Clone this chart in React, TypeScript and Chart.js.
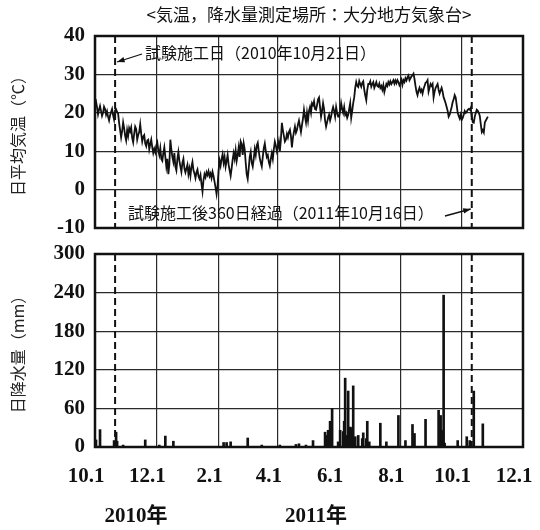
import React, { useEffect, useRef } from 'react';
import { Chart, registerables } from 'chart.js';

Chart.register(...registerables);

// ---- axis ticks (days since 2010-10-01) ----
const tickDays = [0, 61, 123, 182, 243, 304, 365, 426];
const tickLabels = ['10.1', '12.1', '2.1', '4.1', '6.1', '8.1', '10.1', '12.1'];
const yearLabels = ['2010年', '2011年'];
const markerDays = [20, 375];

// ---- daily mean temperature (°C), by month ----
const tOct2010 = [22.5, 23.0, 21.5, 19.6, 20.8, 21.8, 20.5, 19.2, 20.0, 21.6, 21.0, 19.5, 20.4, 19.0, 18.0, 19.3, 20.2, 21.0, 19.4, 18.2, 20.6, 20.9, 20.2, 19.8, 17.4, 15.5, 13.6, 15.2, 17.5, 16.0, 14.0];
const tNov2010 = [12.8, 15.5, 14.0, 16.0, 15.2, 16.2, 13.5, 12.3, 14.5, 16.4, 15.8, 13.0, 14.2, 15.0, 17.0, 14.5, 12.5, 13.8, 14.2, 12.0, 11.3, 12.8, 13.0, 10.5, 11.8, 13.0, 11.0, 9.5, 10.6, 9.7];
const tDec2010 = [11.5, 12.3, 10.2, 9.0, 10.8, 8.0, 7.5, 9.5, 11.0, 8.5, 6.0, 8.0, 4.0, 6.5, 13.0, 10.5, 8.5, 7.2, 9.5, 6.0, 5.0, 8.0, 9.8, 7.5, 6.0, 4.6, 7.0, 8.0, 5.5, 4.5, 5.5];
const tJan2011 = [6.5, 4.0, 5.5, 3.6, 6.0, 7.2, 5.0, 4.2, 3.0, 4.5, 5.2, 3.5, 2.8, 3.8, 1.5, -0.5, 2.5, 4.0, 3.2, 4.5, 3.8, 4.8, 3.5, 4.2, 3.0, 4.6, 3.5, 2.0, 0.5, -1.2, 1.0];
const tFeb2011 = [5.0, 7.5, 6.2, 8.0, 9.2, 7.0, 8.5, 6.0, 7.5, 9.0, 6.5, 5.0, 3.6, 5.5, 7.8, 9.5, 8.0, 10.2, 7.5, 9.0, 11.0, 8.5, 12.5, 11.8, 9.0, 12.0, 10.5, 7.0];
const tMar2011 = [4.0, 2.8, 5.5, 8.5, 9.8, 7.0, 6.0, 8.0, 10.5, 9.0, 11.5, 12.2, 10.0, 8.2, 7.0, 6.0, 8.5, 10.8, 12.0, 10.0, 8.5, 9.0, 7.2, 6.2, 8.0, 9.5, 8.0, 10.5, 12.5, 11.5, 10.0];
const tApr2011 = [11.0, 12.5, 10.0, 13.0, 17.4, 15.5, 14.0, 12.5, 13.0, 14.5, 13.6, 15.0, 15.6, 14.0, 11.0, 13.5, 15.0, 16.4, 14.8, 15.5, 17.0, 18.0, 16.5, 15.0, 16.8, 18.5, 20.8, 19.0, 17.5, 20.0];
const tMay2011 = [18.0, 20.5, 21.5, 20.0, 22.5, 22.0, 23.0, 21.0, 20.8, 22.0, 23.5, 24.0, 21.5, 19.0, 20.5, 22.5, 21.0, 18.0, 16.4, 17.5, 18.7, 19.5, 18.0, 19.0, 20.5, 21.5, 20.5, 19.0, 21.5, 20.0, 19.0];
const tJun2011 = [19.0, 20.5, 22.5, 21.0, 20.0, 21.5, 19.5, 20.0, 18.7, 19.5, 21.0, 22.5, 18.7, 20.5, 22.5, 24.0, 26.5, 28.0, 27.0, 26.7, 28.3, 27.5, 26.8, 27.8, 28.2, 26.0, 24.5, 23.3, 26.0, 27.5];
const tJul2011 = [27.5, 28.2, 26.8, 27.5, 28.0, 26.5, 27.2, 28.0, 27.0, 26.8, 27.6, 26.5, 27.0, 26.0, 27.2, 25.4, 26.5, 27.5, 27.0, 28.0, 27.4, 28.2, 27.5, 28.0, 28.5, 27.6, 28.4, 27.7, 28.5, 28.0, 27.2];
const tAug2011 = [27.8, 28.6, 27.3, 28.5, 28.0, 29.0, 28.4, 29.2, 29.7, 28.5, 29.0, 29.5, 29.8, 30.2, 28.8, 27.0, 25.5, 24.6, 25.8, 26.5, 25.5, 26.0, 25.0, 26.2, 27.0, 27.8, 28.0, 28.5, 25.5, 26.5, 27.5];
const tSep2011 = [27.0, 27.5, 24.0, 25.5, 26.5, 27.0, 27.5, 26.0, 25.0, 25.8, 26.5, 25.5, 24.0, 23.3, 22.5, 21.5, 20.5, 19.0, 19.5, 20.5, 21.5, 22.8, 23.5, 24.6, 24.0, 22.0, 20.0, 19.2, 18.5, 19.5];
const tOct2011 = [18.2, 18.7, 19.5, 20.5, 20.0, 20.3, 20.8, 21.0, 20.8, 21.3, 19.0, 17.5, 17.4, 19.0, 20.0, 20.8, 20.5, 20.0, 19.2, 17.0, 15.0, 15.5, 14.9, 17.5, 18.0, 18.5, 19.0];

// ---- daily precipitation (mm) on rainy days ----
const rainDays = [1, 5, 19, 21, 22, 28, 50, 64, 70, 78, 128, 131, 135, 152, 166, 184, 200, 203, 210, 217, 229, 231, 232, 234, 236, 242, 244, 247, 248, 249, 251, 252, 254, 255, 257, 259, 262, 266, 267, 270, 271, 273, 284, 290, 302, 309, 316, 318, 329, 342, 344, 345, 346, 347, 348, 361, 370, 373, 377, 386];
const rainMm = [11, 27, 10, 23, 9, 3, 11, 3, 17, 9, 7, 7, 8, 14, 3, 3, 4, 5, 3, 10, 23, 18, 26, 40, 60, 8, 26, 24, 40, 107, 18, 87, 31, 30, 95, 16, 18, 13, 22, 13, 40, 8, 37, 8, 49, 10, 35, 21, 43, 57, 49, 26, 8, 236, 6, 10, 16, 10, 87, 36];

const temperature = [
  ...tOct2010, ...tNov2010, ...tDec2010, ...tJan2011, ...tFeb2011, ...tMar2011,
  ...tApr2011, ...tMay2011, ...tJun2011, ...tJul2011, ...tAug2011, ...tSep2011, ...tOct2011,
];

const SERIF = '"Liberation Serif", "Times New Roman", "Noto Sans CJK JP", serif';
const JP = '"Noto Sans CJK JP", sans-serif';
const INK = '#111';
const GRID = '#2a2a2a';

function arrow(ctx: CanvasRenderingContext2D, x1: number, y1: number, x2: number, y2: number) {
  ctx.save();
  ctx.strokeStyle = INK;
  ctx.fillStyle = INK;
  ctx.lineWidth = 1.3;
  ctx.beginPath();
  ctx.moveTo(x1, y1);
  ctx.lineTo(x2, y2);
  ctx.stroke();
  const a = Math.atan2(y2 - y1, x2 - x1);
  const s = 8;
  ctx.beginPath();
  ctx.moveTo(x2, y2);
  ctx.lineTo(x2 - s * Math.cos(a - 0.35), y2 - s * Math.sin(a - 0.35));
  ctx.lineTo(x2 - s * Math.cos(a + 0.35), y2 - s * Math.sin(a + 0.35));
  ctx.closePath();
  ctx.fill();
  ctx.restore();
}

const framePlugin = {
  id: 'frame',
  afterDatasetsDraw(chart: any) {
    const { ctx, chartArea: a, scales } = chart;
    ctx.save();
    ctx.strokeStyle = INK;
    ctx.lineWidth = 2;
    ctx.setLineDash([7, 4]);
    markerDays.forEach((d) => {
      const x = scales.x.getPixelForValue(d);
      ctx.beginPath();
      ctx.moveTo(x, a.top);
      ctx.lineTo(x, a.bottom);
      ctx.stroke();
    });
    ctx.setLineDash([]);
    ctx.lineWidth = 2.5;
    ctx.strokeRect(a.left, a.top, a.right - a.left, a.bottom - a.top);
    ctx.restore();
  },
};

const topTextPlugin = {
  id: 'topText',
  afterDraw(chart: any) {
    const { ctx, scales } = chart;
    ctx.save();
    ctx.fillStyle = INK;
    ctx.textBaseline = 'middle';
    ctx.font = `17px ${JP}`;
    ctx.textAlign = 'center';
    ctx.fillText('<気温，降水量測定場所：大分地方気象台>', 309, 15);
    ctx.font = `16px ${JP}`;
    ctx.textAlign = 'left';
    ctx.fillText('試験施工日（2010年10月21日）', 145, 53);
    ctx.fillText('試験施工後360日経過（2011年10月16日）', 128, 213);
    const x1 = scales.x.getPixelForValue(markerDays[0]);
    const x2 = scales.x.getPixelForValue(markerDays[1]);
    arrow(ctx, 142, 54, x1 + 2, 62);
    arrow(ctx, 445, 216, x2 - 1, 209);
    ctx.restore();
  },
};

const bottomTextPlugin = {
  id: 'bottomText',
  afterDraw(chart: any) {
    const { ctx } = chart;
    ctx.save();
    ctx.fillStyle = INK;
    ctx.font = `bold 21px ${SERIF}`;
    ctx.textAlign = 'center';
    ctx.textBaseline = 'middle';
    ctx.fillText(yearLabels[0], 136, 275);
    ctx.fillText(yearLabels[1], 316, 275);
    ctx.restore();
  },
};

function xScale(showLabels: boolean) {
  return {
    type: 'linear',
    min: 0,
    max: 426,
    offset: false,
    afterBuildTicks: (s: any) => {
      s.ticks = tickDays.map((v) => ({ value: v }));
    },
    afterFit: (s: any) => {
      s.height = showLabels ? 83 : 0;
      s.paddingLeft = 0;
      s.paddingRight = 0;
      s.paddingTop = 0;
      s.paddingBottom = 0;
    },
    ticks: {
      display: showLabels,
      autoSkip: false,
      maxRotation: 0,
      padding: 17,
      labelOffset: -9,
      color: INK,
      font: { family: SERIF, size: 21, weight: 'bold' },
      callback: (v: number) => {
        const i = tickDays.indexOf(v);
        return i >= 0 ? tickLabels[i] : '';
      },
    },
    grid: { color: GRID, lineWidth: 1.2, drawTicks: false, offset: false },
    border: { display: false },
  };
}

function yScale(min: number, max: number, step: number, title: string) {
  return {
    min,
    max,
    afterFit: (s: any) => {
      s.width = 95;
      s.paddingLeft = 0;
      s.paddingRight = 0;
      s.paddingTop = 0;
      s.paddingBottom = 0;
    },
    ticks: {
      stepSize: step,
      padding: 10,
      color: INK,
      font: { family: SERIF, size: 21, weight: 'bold' },
    },
    grid: { color: GRID, lineWidth: 1.2, drawTicks: false },
    border: { display: false },
    title: {
      display: true,
      text: title,
      color: '#222',
      font: { family: JP, size: 16 },
      padding: { top: 8, bottom: 0 },
    },
  };
}

export default function App() {
  const topRef = useRef<HTMLCanvasElement>(null);
  const botRef = useRef<HTMLCanvasElement>(null);

  useEffect(() => {
    const top = new Chart(topRef.current as HTMLCanvasElement, {
      type: 'line',
      data: {
        datasets: [
          {
            data: temperature.map((v, i) => ({ x: i, y: v })),
            borderColor: INK,
            borderWidth: 1.8,
            pointRadius: 0,
            tension: 0,
          },
        ],
      },
      options: {
        animation: false,
        responsive: false,
        layout: { autoPadding: false, padding: { left: 0, right: 17, top: 36, bottom: 14 } } as any,
        plugins: { legend: { display: false }, tooltip: { enabled: false } },
        scales: {
          x: xScale(false) as any,
          y: yScale(-10, 40, 10, '日平均気温（℃）') as any,
        },
      },
      plugins: [framePlugin, topTextPlugin],
    });

    const bot = new Chart(botRef.current as HTMLCanvasElement, {
      type: 'bar',
      data: {
        datasets: [
          {
            data: rainDays.map((d, i) => ({ x: d, y: rainMm[i] })) as any,
            backgroundColor: INK,
            barThickness: 2,
          },
        ],
      },
      options: {
        animation: false,
        responsive: false,
        layout: { autoPadding: false, padding: { left: 0, right: 17, top: 12, bottom: 0 } } as any,
        plugins: { legend: { display: false }, tooltip: { enabled: false } },
        scales: {
          x: xScale(true) as any,
          y: yScale(0, 300, 60, '日降水量（mm）') as any,
        },
      },
      plugins: [framePlugin, bottomTextPlugin],
    });

    return () => {
      top.destroy();
      bot.destroy();
    };
  }, []);

  return (
    <div style={{ position: 'absolute', left: 0, top: 0, width: 540, height: 530, background: '#fff' }}>
      <canvas ref={topRef} width={540} height={242} style={{ position: 'absolute', left: 0, top: 0, display: 'block' }} />
      <canvas ref={botRef} width={540} height={288} style={{ position: 'absolute', left: 0, top: 242, display: 'block' }} />
    </div>
  );
}
